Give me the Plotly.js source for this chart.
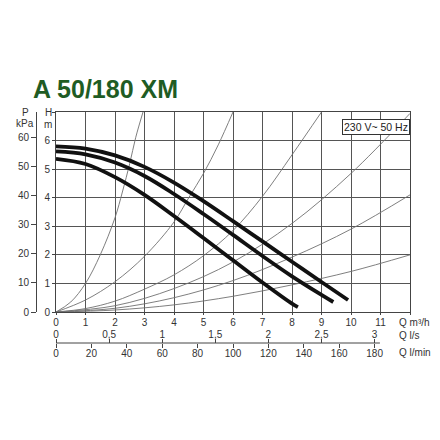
<!DOCTYPE html>
<html>
<head>
<meta charset="utf-8">
<script src="https://cdn.plot.ly/plotly-3.0.1.min.js"></script>
<style>html,body{margin:0;padding:0;background:#fff;}#chart{width:440px;height:440px;}</style>
</head>
<body>
<div id="chart"></div>
<script>
// ---- data ----
const chartTitle = "A 50/180 XM";
const supplyLabel = "230 V~ 50 Hz";

// pump curves: Q (m3/h) vs H (m)
const pumpTopQ = [0, 1, 2, 3, 4, 5, 6, 7, 8, 9, 9.9];
const pumpTopH = [5.80, 5.72, 5.48, 5.08, 4.53, 3.88, 3.18, 2.47, 1.76, 1.05, 0.42];
const pumpMidQ = [0, 1, 2, 3, 4, 5, 6, 7, 8, 9, 9.4];
const pumpMidH = [5.62, 5.52, 5.23, 4.76, 4.13, 3.43, 2.70, 1.96, 1.25, 0.60, 0.35];
const pumpLowQ = [0, 1, 2, 3, 4, 5, 6, 7, 8, 8.2];
const pumpLowH = [5.36, 5.18, 4.72, 4.10, 3.36, 2.59, 1.81, 1.03, 0.29, 0.17];

// system (resistance) curves
const sysAQ = [0, 0.5, 1, 1.5, 2, 2.25, 2.5, 2.7, 2.95];
const sysAH = [0, 0.35, 1.0, 2.0, 3.3, 4.2, 5.2, 6.1, 7.0];
const sysBQ = [0, 1, 2, 3, 4, 4.5, 5, 5.5, 6];
const sysBH = [0, 0.42, 1.06, 1.95, 3.15, 4.0, 4.85, 5.85, 7.0];
const sysCQ = [0, 1, 2, 3, 4, 5, 6, 7, 8, 9];
const sysCH = [0, 0.12, 0.38, 0.80, 1.30, 1.97, 2.85, 4.05, 5.50, 7.0];
const sysDQ = [0, 2, 4, 6, 8, 10, 12];
const sysDH = [0, 0.22, 0.82, 1.75, 3.10, 4.85, 6.95];
const sysEQ = [0, 2, 4, 6, 8, 10, 12];
const sysEH = [0, 0.13, 0.50, 1.10, 1.92, 2.90, 4.10];
const sysFQ = [0, 2, 4, 6, 8, 10, 12];
const sysFH = [0, 0.07, 0.25, 0.55, 0.95, 1.42, 2.00];

// axes ticks
const qM3hTicks = [0, 1, 2, 3, 4, 5, 6, 7, 8, 9, 10, 11, 12];
const qM3hLabels = ["0", "1", "2", "3", "4", "5", "6", "7", "8", "9", "10", "11", ""];
const hTicks = [0, 1, 2, 3, 4, 5, 6, 7];
const hLabels = ["0", "1", "2", "3", "4", "5", "6", ""];
const pTicks = [0, 10, 20, 30, 40, 50, 60];
const pLabels = ["0", "10", "20", "30", "40", "50", "60"];
const qLsTicks = [0, 0.5, 1, 1.5, 2, 2.5, 3];
const qLsLabels = ["0", "0,5", "1", "1,5", "2", "2,5", "3"];
const qLminTicks = [0, 20, 40, 60, 80, 100, 120, 140, 160, 180];
const qLminLabels = ["0", "20", "40", "60", "80", "100", "120", "140", "160", "180"];

// ---- layout geometry ----
const W = 440, H = 440;
const mL = 36, mR = 30, mT = 112, mB = 97;
const pw = W - mL - mR, ph = H - mT - mB;
const px = v => (v - mL) / pw;          // pixel x -> paper
const py = v => (H - mB - v) / ph;      // pixel y -> paper
const xDom = [px(56), 1];
const yDom = [py(312), 1];
const qMax = 12;
const lminEnd = 183;

const font = "Liberation Sans, Arial, sans-serif";
const tickFont = {family: font, size: 10, color: "#333"};

const sysStyle = {color: "#707070", width: 0.9, shape: "spline"};
const pumpStyle = {color: "#111", width: 3.8, shape: "spline"};

function tr(x, y, line) {
  return {x: x, y: y, type: "scatter", mode: "lines", line: line,
          hoverinfo: "skip", showlegend: false, xaxis: "x", yaxis: "y"};
}

const data = [
  tr(sysAQ, sysAH, sysStyle), tr(sysBQ, sysBH, sysStyle), tr(sysCQ, sysCH, sysStyle),
  tr(sysDQ, sysDH, sysStyle), tr(sysEQ, sysEH, sysStyle), tr(sysFQ, sysFH, sysStyle),
  tr(pumpTopQ, pumpTopH, pumpStyle), tr(pumpMidQ, pumpMidH, pumpStyle), tr(pumpLowQ, pumpLowH, pumpStyle),
  {x: [0], y: [0], type: "scatter", mode: "markers", marker: {opacity: 0}, xaxis: "x2", yaxis: "y", hoverinfo: "skip", showlegend: false},
  {x: [0], y: [0], type: "scatter", mode: "markers", marker: {opacity: 0}, xaxis: "x3", yaxis: "y", hoverinfo: "skip", showlegend: false},
  {x: [0], y: [0], type: "scatter", mode: "markers", marker: {opacity: 0}, xaxis: "x", yaxis: "y2", hoverinfo: "skip", showlegend: false}
];

const lineCol = "#444";

const layout = {
  width: W, height: H,
  margin: {l: mL, r: mR, t: mT, b: mB, pad: 0},
  paper_bgcolor: "#fff", plot_bgcolor: "#fff",
  showlegend: false,
  title: {text: "<b>" + chartTitle + "</b>", x: 33 / W, xanchor: "left", xref: "container",
          y: 1 - 89 / H, yanchor: "middle", yref: "container",
          font: {family: font, size: 25, color: "#1f5c24"}},
  xaxis: {domain: xDom, range: [0, qMax], anchor: "y", tickmode: "array", tickvals: qM3hTicks, ticktext: qM3hLabels,
          showgrid: true, gridcolor: "#555", gridwidth: 1, zeroline: false, showline: true, linecolor: lineCol, linewidth: 1,
          mirror: true, ticks: "outside", ticklen: 2, tickcolor: lineCol, tickfont: tickFont, ticklabelstandoff: -1, fixedrange: true},
  xaxis2: {overlaying: "x", side: "top", anchor: "free", position: 0, range: [0, qMax / 3.6],
           tickmode: "array", tickvals: qLsTicks, ticktext: qLsLabels, showgrid: false, zeroline: false, showline: false,
           ticks: "outside", ticklen: 4, tickcolor: lineCol, tickfont: tickFont, ticklabelstandoff: -3, fixedrange: true},
  xaxis3: {overlaying: "x", side: "bottom", anchor: "free", position: 0, range: [0, qMax * 1000 / 60],
           tickmode: "array", tickvals: qLminTicks, ticktext: qLminLabels, showgrid: false, zeroline: false, showline: false,
           ticks: "outside", ticklen: 4, tickcolor: lineCol, tickfont: tickFont, ticklabelstandoff: -3, fixedrange: true},
  yaxis: {domain: yDom, range: [0, 7], anchor: "x", tickmode: "array", tickvals: hTicks, ticktext: hLabels,
          showgrid: true, gridcolor: "#555", gridwidth: 1, zeroline: false, showline: true, linecolor: lineCol, linewidth: 1,
          mirror: true, ticks: "outside", ticklen: 3, tickcolor: lineCol, tickfont: tickFont, fixedrange: true},
  yaxis2: {overlaying: "y", side: "left", anchor: "free", position: 0, range: [0, 7 * 9.81],
           tickmode: "array", tickvals: pTicks, ticktext: pLabels, showgrid: false, zeroline: false, showline: true,
           linecolor: lineCol, linewidth: 1, ticks: "outside", ticklen: 5, tickcolor: lineCol, tickfont: tickFont, fixedrange: true},
  shapes: [
    {type: "line", xref: "x3", yref: "paper", x0: 0, x1: lminEnd, y0: 0, y1: 0, line: {color: lineCol, width: 1}}
  ],
  annotations: [
    {text: "Q m³/h", xref: "paper", yref: "paper", x: px(397), y: py(322), xanchor: "left", yanchor: "middle", showarrow: false, font: tickFont},
    {text: "Q l/s", xref: "paper", yref: "paper", x: px(397), y: py(335), xanchor: "left", yanchor: "middle", showarrow: false, font: tickFont},
    {text: "Q l/min", xref: "paper", yref: "paper", x: px(397), y: py(352), xanchor: "left", yanchor: "middle", showarrow: false, font: tickFont},
    {text: "P", xref: "paper", yref: "paper", x: px(25), y: py(112), xanchor: "center", yanchor: "middle", showarrow: false, font: tickFont},
    {text: "kPa", xref: "paper", yref: "paper", x: px(25), y: py(123), xanchor: "center", yanchor: "middle", showarrow: false, font: tickFont},
    {text: "H", xref: "paper", yref: "paper", x: px(48), y: py(112), xanchor: "center", yanchor: "middle", showarrow: false, font: tickFont},
    {text: "m", xref: "paper", yref: "paper", x: px(48), y: py(124), xanchor: "center", yanchor: "middle", showarrow: false, font: tickFont},
    {text: supplyLabel, xref: "paper", yref: "paper", x: px(376), y: py(127), xanchor: "center", yanchor: "middle", showarrow: false,
     font: {family: font, size: 10.5, color: "#222"}, bgcolor: "#fff", bordercolor: "#333", borderwidth: 1, borderpad: 1}
  ]
};

Plotly.newPlot("chart", data, layout, {staticPlot: true, displayModeBar: false});
</script>
</body>
</html>
